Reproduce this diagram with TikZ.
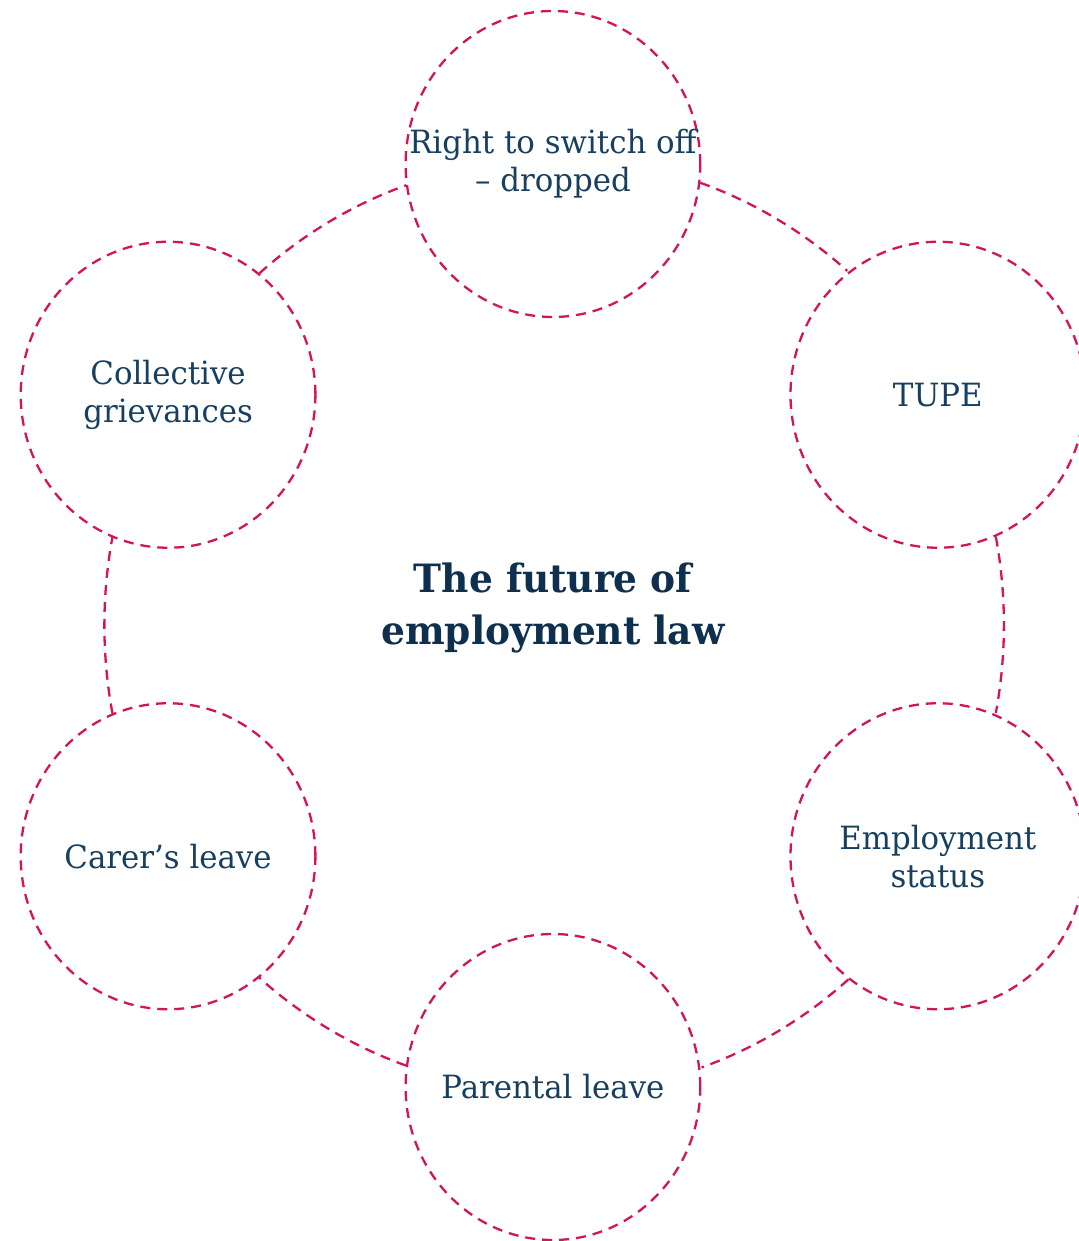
\documentclass[tikz,border=0pt]{standalone}
\usepackage{fontspec}
\setmainfont{DejaVu Serif}
\usetikzlibrary{calc}
\definecolor{ringred}{HTML}{D4145A}
\definecolor{inkblue}{HTML}{173F5F}
\definecolor{titleblue}{HTML}{0E2F4D}
\begin{document}
\begin{tikzpicture}[x=1pt, y=1pt, xscale=0.963, transform shape,
  topic/.style={circle, draw=ringred, line width=2.3pt, dash pattern=on 10pt off 7pt,
    minimum size=306pt, inner sep=0pt, align=center, text=inkblue,
    font=\fontsize{32}{38}\selectfont},
  link/.style={draw=ringred, line width=2.3pt, dash pattern=on 10pt off 7pt},
  headline/.style={align=center, text=titleblue, font=\bfseries\fontsize{39}{52}\selectfont}]
  % page frame
  \clip (-574.2,-615.5) rectangle (546.2,625.5);
  \coordinate (hub) at (0,0);
  % topics placed on a ring of radius 461.5 around the hub
  \node[topic] (switch)     at (90:461.5)   {Right to switch off\\– dropped};
  \node[topic] (tupe)       at (30:461.5)   {TUPE};
  \node[topic] (status)     at (-30:461.5)  {Employment\\status};
  \node[topic] (parental)   at (-90:461.5)  {Parental leave};
  \node[topic] (carer)      at (-150:461.5) {Carer’s leave};
  \node[topic] (collective) at (150:461.5)  {Collective\\grievances};
  % central heading
  \node[headline] (title) at (0,17) {The future of\\employment law};
  % ring segments (radius 466) linking neighbouring topics
  \draw[link] (switch.-7.9)      arc[start angle=70.9,   end angle=49.1,   radius=466];
  \draw[link] (tupe.-67.9)       arc[start angle=10.9,   end angle=-10.9,  radius=466];
  \draw[link] (status.-127.9)    arc[start angle=-49.1,  end angle=-70.9,  radius=466];
  \draw[link] (parental.172.1)   arc[start angle=-109.1, end angle=-130.9, radius=466];
  \draw[link] (carer.112.1)      arc[start angle=-169.1, end angle=-190.9, radius=466];
  \draw[link] (collective.52.1)  arc[start angle=130.9,  end angle=109.1,  radius=466];
\end{tikzpicture}
\end{document}
